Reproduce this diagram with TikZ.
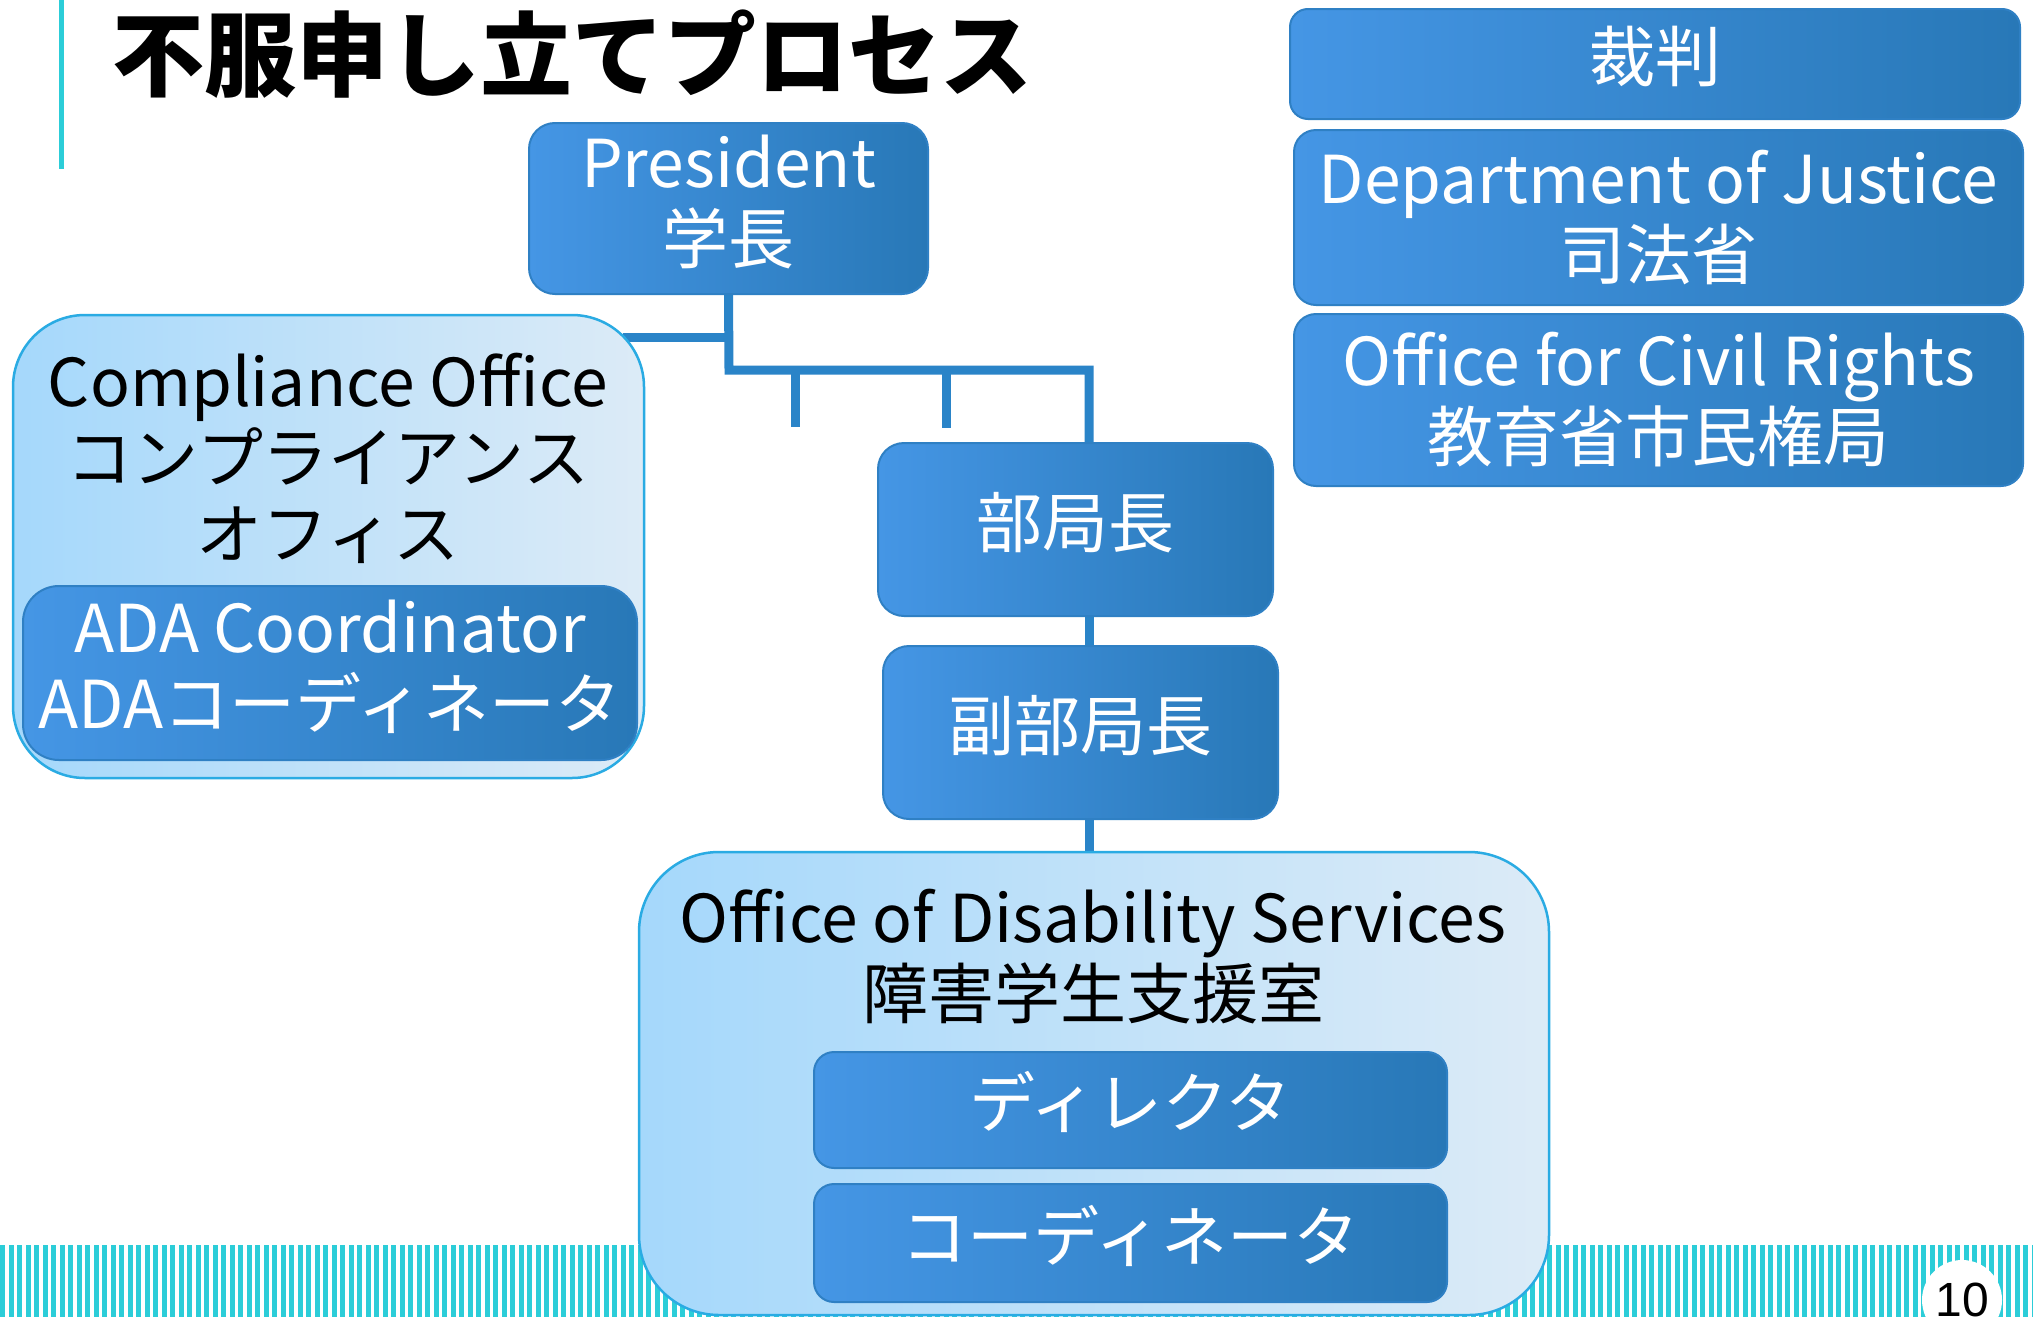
\documentclass[tikz,border=0pt]{standalone}
\usepackage{fontspec}
\setmainfont{Noto Sans CJK JP}
\newfontfamily\pgnumfont{Liberation Sans}
\usetikzlibrary{calc}
\definecolor{bluel}{HTML}{4596E5}
\definecolor{blued}{HTML}{2878B7}
\definecolor{boxedge}{HTML}{2F80C4}
\definecolor{paleL}{HTML}{A5D8FB}
\definecolor{paleR}{HTML}{DCEBF7}
\definecolor{paleedge}{HTML}{2AABE3}
\definecolor{connc}{HTML}{2A84C8}
\definecolor{cyanc}{HTML}{2CCDD8}
\pgfdeclarelayer{stripes}
\pgfdeclarelayer{lines}
\pgfsetlayers{stripes,lines,main}
\tikzset{
  bigtext/.style={font=\fontsize{66}{76}\selectfont},
  dbox/.style={draw=boxedge, line width=2, rounded corners=#1, left color=bluel, right color=blued, inner sep=0},
  dbox/.default=26,
  dtext/.style={align=center, bigtext, text=white, inner sep=0},
  pbox/.style={draw=paleedge, line width=2.5, rounded corners=#1, left color=paleL, right color=paleR, inner sep=0},
  pbox/.default=72,
  ptext/.style={align=center, bigtext, text=black, inner sep=0},
  conn/.style={draw=connc, line width=9},
}
\begin{document}
\begin{tikzpicture}[x=1pt,y=-1pt]
\useasboundingbox (0,0) rectangle (2033,1317);
% background, decorative stripes and side bar
\begin{pgfonlayer}{stripes}
  \fill[white] (0,0) rectangle (2033,1317);
  \foreach \i in {0,...,239} {
    \fill[cyanc] ({\i*8.5},1245) rectangle ({\i*8.5+5.2},1317);
  }
  \fill[cyanc] (58.5,0) rectangle (63.5,169);
\end{pgfonlayer}
% title
\node[anchor=west, inner sep=0, font=\bfseries\fontsize{92}{100}\selectfont] (title) at (112,54) {不服申し立てプロセス};
% right column
\node[dbox=18, minimum width=730, minimum height=110] (saiban) at (1655,64) {};
\node[dtext] (saibanT) at ($(saiban)+(0,-8)$) {裁判};
\node[dbox=22, minimum width=729, minimum height=175] (doj) at (1658.5,217.5) {};
\node[dtext] (dojT) at (doj) {Department of Justice\\司法省};
\node[dbox=22, minimum width=729, minimum height=172] (ocr) at (1658.5,400) {};
\node[dtext] (ocrT) at (ocr) {Office for Civil Rights\\教育省市民権局};
% hierarchy
\node[dbox, minimum width=399, minimum height=171] (pres) at (728.5,208.5) {};
\node[dtext] (presT) at ($(pres)+(0,-7)$) {President\\学長};
\node[pbox, minimum width=631, minimum height=463] (co) at (328.5,546.5) {};
\node[ptext] (cot) at (328,458) {Compliance Office\\コンプライアンス\\オフィス};
\node[dbox=36, minimum width=614, minimum height=174] (ada) at (330,673) {};
\node[dtext] (adaT) at ($(ada)+(0,-6)$) {ADA Coordinator\\ADAコーディネータ};
\node[dbox, minimum width=395, minimum height=173] (bu) at (1075.5,529.5) {};
\node[dtext] (buT) at ($(bu)+(0,-7)$) {部局長};
\node[dbox, minimum width=395, minimum height=173] (fuku) at (1080.5,732.5) {};
\node[dtext] (fukuT) at ($(fuku)+(0,-7)$) {副部局長};
\node[pbox=80, minimum width=910, minimum height=463] (ods) at (1094,1083.5) {};
\node[ptext] (odst) at (1093,957) {Office of Disability Services\\障害学生支援室};
\node[dbox=20, minimum width=633, minimum height=116] (dir) at (1130.5,1110) {};
\node[dtext] (dirT) at ($(dir)+(0,-8)$) {ディレクタ};
\node[dbox=20, minimum width=633, minimum height=118] (coord) at (1130.5,1243) {};
\node[dtext] (coordT) at ($(coord)+(0,-7)$) {コーディネータ};
% page number
\node[circle, fill=white, minimum size=80, inner sep=0, font=\pgnumfont\fontsize{48}{52}\selectfont] (pg) at (1962,1300) {10};
% connectors
\coordinate (j1) at (729,337);
\coordinate (j2) at (729,370);
\coordinate (j3) at (1089,370);
\coordinate (s1) at (795,427);
\coordinate (s2) at (946,428);
\begin{pgfonlayer}{lines}
  \draw[conn] (pres.south) -- (j2) -- (j3) -- (j3 |- bu.north);
  \draw[conn] (j1) -- ($(j1 -| co.east)+(-22,0)$);
  \draw[conn] (s1 |- j2) -- (s1);
  \draw[conn] (s2 |- j2) -- (s2);
  \draw[conn] (j3 |- bu.south) -- (j3 |- fuku.north);
  \draw[conn] (j3 |- fuku.south) -- (j3 |- ods.north);
\end{pgfonlayer}
\end{tikzpicture}
\end{document}
